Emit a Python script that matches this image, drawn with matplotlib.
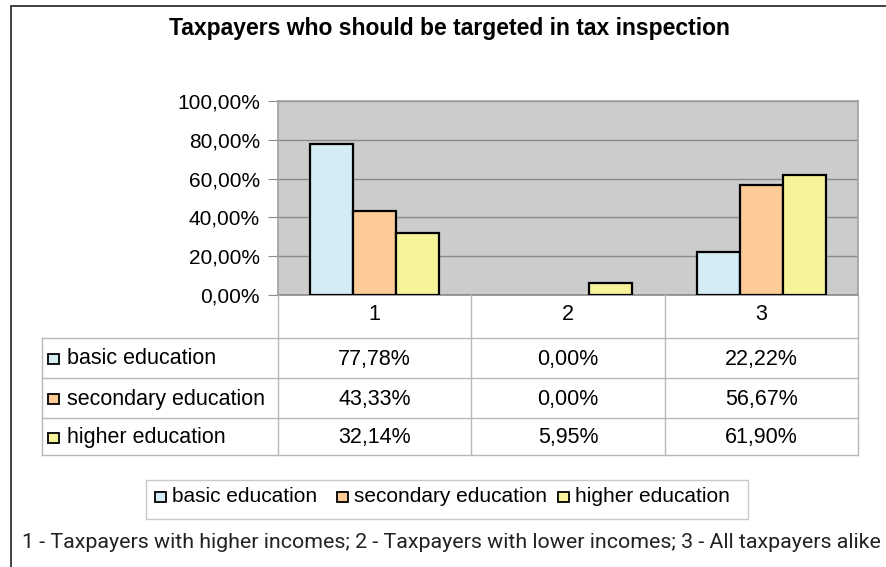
import matplotlib
matplotlib.use("Agg")
import matplotlib.pyplot as plt
from matplotlib.patches import Rectangle
from matplotlib.lines import Line2D
import numpy as np

# --- data ---
categories = ["1", "2", "3"]
series_names = ["basic education", "secondary education", "higher education"]
basic = [77.78, 0.00, 22.22]
secondary = [43.33, 0.00, 56.67]
higher = [32.14, 5.95, 61.90]
series_values = [basic, secondary, higher]
series_colors = ["#D4ECF3", "#FDCB98", "#F7F39B"]
y_ticks = [0, 20, 40, 60, 80, 100]
title = "Taxpayers who should be targeted in tax inspection"
footnote = "1 - Taxpayers with higher incomes; 2 - Taxpayers with lower incomes; 3 - All taxpayers alike"

W, H = 887, 567
fig = plt.figure(figsize=(W / 100, H / 100), dpi=100)
fig.patch.set_facecolor("white")
FONT = "Liberation Sans"
FS = 15.5


def fx(px):
    return px / W


def fy(py):
    return 1 - py / H


def fmt(v):
    return f"{v:.2f}".replace(".", ",") + "%"


# outer frame
fig.add_artist(Rectangle((fx(11.5), fy(600)), fx(900), fy(6) - fy(600),
                         transform=fig.transFigure, fill=False,
                         edgecolor="#333333", lw=1.3))

# plot area
L, R, T, B = 278, 858, 101, 295
ax = fig.add_axes([fx(L), fy(B), fx(R - L), fy(T) - fy(B)])
ax.set_facecolor("#CCCCCC")
n_series = len(series_values)
bw = 0.667 / n_series
x = np.arange(len(categories))
for i, (vals, col) in enumerate(zip(series_values, series_colors)):
    bars = ax.bar(x + (i - (n_series - 1) / 2) * bw, vals, width=bw, color=col,
                  edgecolor="black", linewidth=1.6, zorder=3)
    # zero-height bars leave no outline on the baseline
    for b, v in zip(bars, vals):
        if v == 0:
            b.set_linewidth(0)
ax.set_xlim(-0.5, len(categories) - 0.5)
ax.set_ylim(0, 100)
ax.set_yticks(y_ticks)
ax.set_yticklabels([fmt(t) for t in y_ticks], fontsize=15, family=FONT)
ax.yaxis.grid(True, color="#8A8A8A", lw=1.0, zorder=1)
ax.set_xticks([])
ax.tick_params(axis="y", length=7, color="#8A8A8A", pad=6)
for s in ax.spines.values():
    s.set_color("#A0A0A0")
    s.set_linewidth(1.2)
ax.spines["bottom"].set_color("#8A8A8A")

# title
fig.text(fx(449), fy(28), title, ha="center", va="center", fontsize=16.5,
         fontweight="bold", family=FONT)

# data table under the plot
grid_col = "#B8B8B8"
col_edges = [L + (R - L) * k / len(categories) for k in range(len(categories) + 1)]
row_edges = [338, 378, 418, 455]
tbl_left = 42


def hline(y, x0, x1):
    fig.add_artist(Line2D([fx(x0), fx(x1)], [fy(y), fy(y)], color=grid_col,
                          lw=1.0, transform=fig.transFigure))


def vline(xp, y0, y1):
    fig.add_artist(Line2D([fx(xp), fx(xp)], [fy(y0), fy(y1)], color=grid_col,
                          lw=1.0, transform=fig.transFigure))


for ry in row_edges:
    hline(ry, tbl_left, R)
vline(tbl_left, row_edges[0], row_edges[-1])
for cx in col_edges:
    vline(cx, B, row_edges[-1])

for k, cat in enumerate(categories):
    cxm = (col_edges[k] + col_edges[k + 1]) / 2
    fig.text(fx(cxm), fy(314), cat, ha="center", va="center", fontsize=FS,
             family=FONT)

for r, (name, vals, col) in enumerate(zip(series_names, series_values, series_colors)):
    ymid = (row_edges[r] + row_edges[r + 1]) / 2 + 1
    fig.add_artist(Rectangle((fx(48), fy(ymid + 5)), fx(11), fy(ymid - 5) - fy(ymid + 5),
                             transform=fig.transFigure, facecolor=col,
                             edgecolor="black", lw=1.3))
    fig.text(fx(67), fy(ymid), name, ha="left", va="center", fontsize=FS,
             family=FONT)
    for k, v in enumerate(vals):
        cxm = (col_edges[k] + col_edges[k + 1]) / 2
        fig.text(fx(cxm), fy(ymid), fmt(v), ha="center", va="center",
                 fontsize=FS, family=FONT)

# legend
fig.add_artist(Rectangle((fx(146), fy(519)), fx(748 - 146), fy(480) - fy(519),
                         transform=fig.transFigure, facecolor="white",
                         edgecolor="#C8C8C8", lw=1.0))
leg_x = [155, 337, 558]
leg_y = 497
for lx, name, col in zip(leg_x, series_names, series_colors):
    fig.add_artist(Rectangle((fx(lx), fy(leg_y + 5)), fx(11), fy(leg_y - 5) - fy(leg_y + 5),
                             transform=fig.transFigure, facecolor=col,
                             edgecolor="black", lw=1.3))
    fig.text(fx(lx + 17), fy(leg_y), name, ha="left", va="center", fontsize=15,
             family=FONT)

# footnote
fig.text(fx(22), fy(542), footnote, ha="left", va="center", fontsize=15.4,
         family="Roboto", color="#222222")

fig.savefig("out.png", dpi=100)
